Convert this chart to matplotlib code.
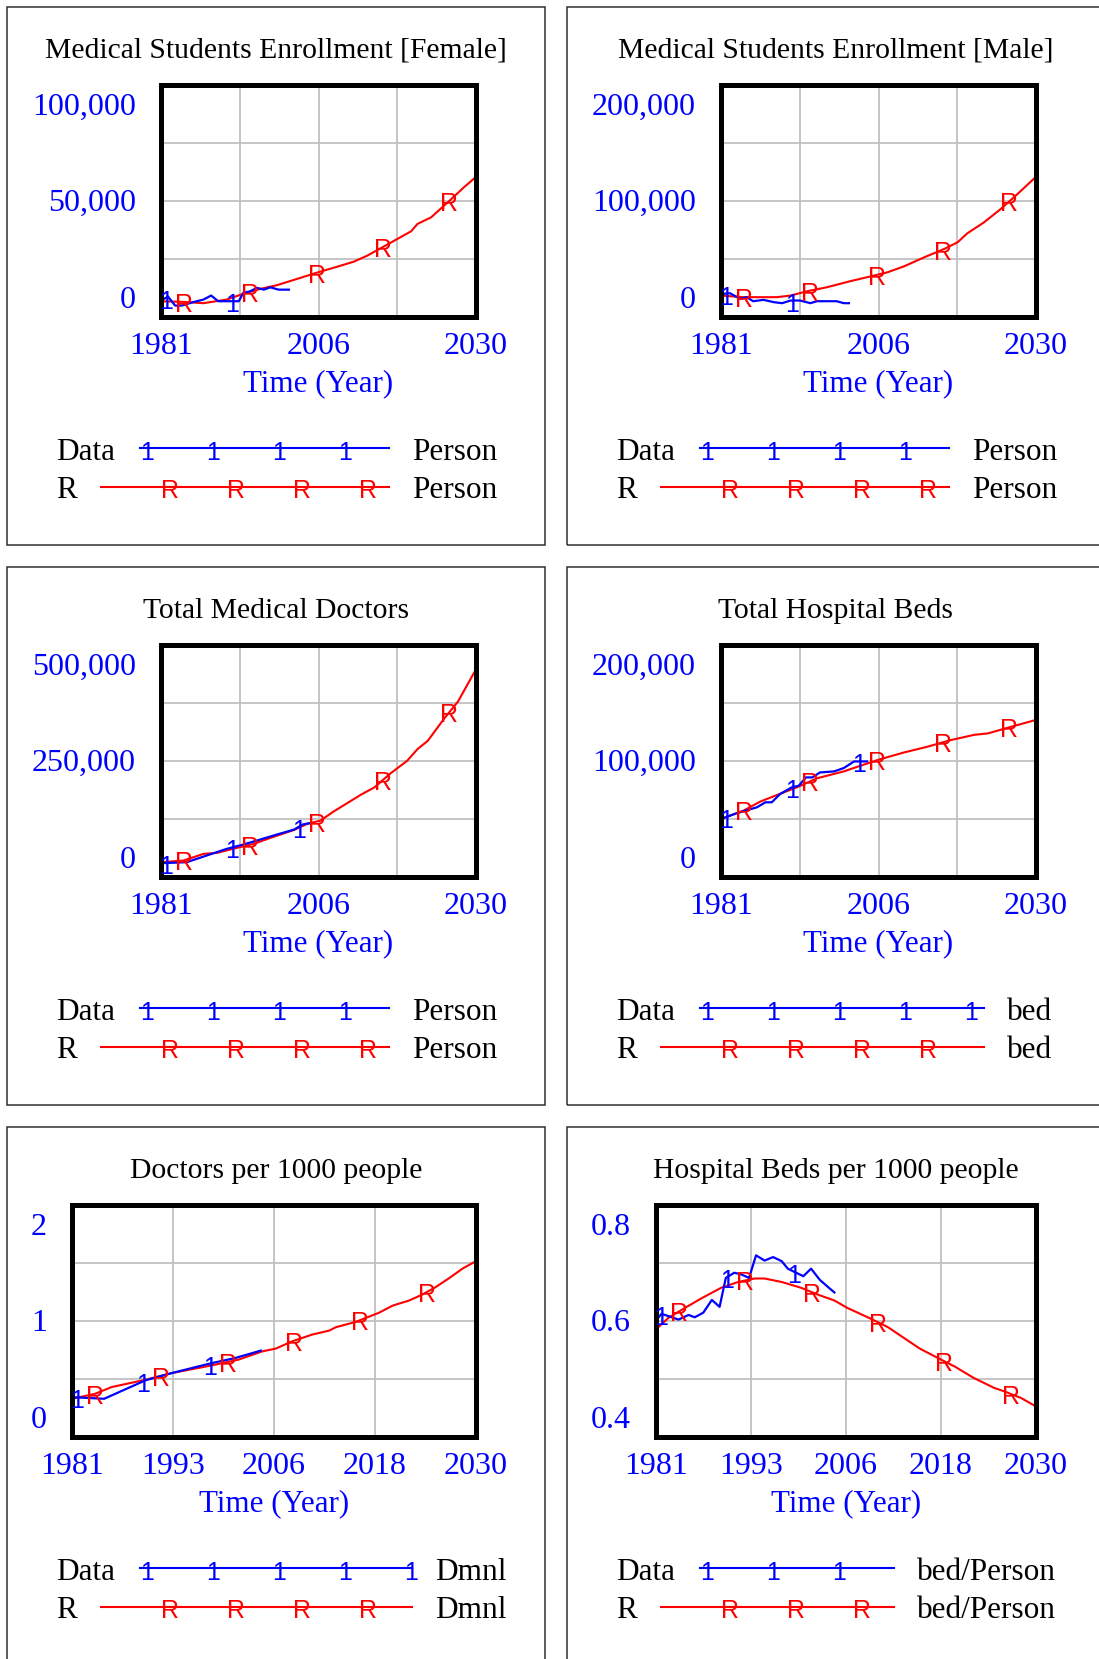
import numpy as np
import matplotlib
matplotlib.use("Agg")
import matplotlib.pyplot as plt
from matplotlib.patches import Rectangle
from matplotlib.lines import Line2D
from matplotlib.transforms import offset_copy

plt.rcParams['font.family'] = ['Liberation Serif', 'DejaVu Serif']

# ---------------- data ----------------
fem_r_year = [1981, 1984.5, 1987.6, 1991.2, 1993.8, 1996.4, 1999, 2002.7, 2005.8, 2008.4,
              2011, 2013.1, 2015.7, 2019.9, 2020.9, 2023, 2025.6, 2028.2, 2030]
fem_r = [6600, 6300, 5750, 7300, 9800, 11900, 13500, 16700, 19400, 21500,
         23700, 26300, 30300, 36800, 40000, 42800, 49300, 56000, 60300]
fem_d_year = [1981, 1982.1, 1983.2, 1984.2, 1986, 1987.6, 1988.8, 1989.9, 1991.8, 1993.1,
              1993.8, 1994.9, 1995.9, 1997, 1998, 1999.3, 2000.9]
fem_d = [6900, 8600, 4700, 4700, 6200, 7300, 9050, 6600, 6600, 6600,
         10200, 10900, 12400, 11600, 12600, 11600, 11600]

male_r_year = [1981, 1984.5, 1989.7, 1991.8, 1994.4, 1997.5, 2001.1, 2003.7, 2006.9, 2009.5,
               2012.6, 2015.7, 2017.8, 2019.3, 2021.9, 2024.5, 2027.1, 2030]
male_r = [18100, 16700, 16700, 18100, 21800, 25300, 30500, 33900, 38200, 43400,
          51100, 58300, 64100, 71800, 81300, 92800, 105700, 120700]
male_d_year = [1981, 1982.4, 1984, 1985, 1986, 1987.6, 1989.2, 1990.5, 1991.8, 1993.3,
               1994.9, 1995.9, 1999, 2000.1, 2000.9]
male_d = [19500, 20100, 15200, 16700, 13200, 14400, 12400, 11500, 13800, 13800,
          11500, 13200, 13200, 11500, 11500]

doc_r_year = [1981, 1984.5, 1987.6, 1989.7, 1992.8, 1995.4, 1998, 2001.7, 2003.7, 2005.8,
              2007.9, 2012.1, 2014.2, 2016.7, 2019.3, 2020.9, 2022.5, 2025.1, 2027.2, 2030]
doc_r = [30900, 34500, 48900, 51000, 61800, 70400, 83300, 100600, 113500, 120700,
         140800, 176700, 192500, 222700, 250000, 275100, 293100, 342000, 377900, 447600]
doc_d_year = [1981, 1985, 1988.1, 1991.2, 1993.8, 1996.4, 1999, 2001.7, 2003, 2004]
doc_d = [28700, 30900, 45300, 59600, 69000, 79700, 90500, 101300, 112100, 114900]

bed_r_year = [1981, 1984.5, 1987.1, 1989.7, 1992.8, 1995.9, 2000.1, 2002.7, 2005.8, 2009.5,
              2013.1, 2016.7, 2020.4, 2022.5, 2026.1, 2030]
bed_r = [49700, 56900, 64700, 70400, 77000, 84800, 90800, 95700, 101400, 107200,
         112100, 117800, 122400, 123600, 129300, 135300]
bed_d_year = [1981, 1983.4, 1986.6, 1987.9, 1988.9, 1990.2, 1992, 1993.1, 1994.2, 1995.2,
              1996.4, 1998.6, 2000.1, 2001.7, 2003.7]
bed_d = [49700, 54600, 59800, 64100, 64100, 71300, 77000, 78400, 85600, 85600,
         89900, 90800, 93700, 99400, 99400]

dpk_r_year = [1981, 1983.8, 1985.8, 1989.9, 1993.1, 1998, 2001.2, 2004.1, 2005.7, 2007.7,
              2010.1, 2012.2, 2013, 2015.4, 2018.2, 2019.9, 2021.9, 2023.5, 2025.1, 2026.8,
              2028.4, 2030]
dpk_r = [0.326, 0.369, 0.427, 0.49, 0.548, 0.615, 0.664, 0.736, 0.759, 0.822,
         0.880, 0.915, 0.944, 0.99, 1.068, 1.131, 1.175, 1.227, 1.29, 1.371,
         1.452, 1.515]
dpk_d_year = [1981, 1983.2, 1984.9, 1989.9, 1993.1, 1998, 2000.8, 2003.9]
dpk_d = [0.34, 0.332, 0.326, 0.485, 0.548, 0.635, 0.678, 0.742]

bpk_r_year = [1981, 1982.6, 1984.7, 1986.9, 1989.4, 1991.6, 1993.7, 1995, 1997.2, 1999.7,
              2001.9, 2004, 2005.7, 2008.3, 2010.9, 2013, 2015, 2017.3, 2019.5, 2022,
              2024.6, 2025.9, 2028, 2030]
bpk_r = [0.585, 0.605, 0.622, 0.639, 0.657, 0.667, 0.673, 0.673, 0.667, 0.657,
         0.645, 0.635, 0.622, 0.606, 0.589, 0.570, 0.552, 0.536, 0.521, 0.501,
         0.484, 0.478, 0.467, 0.452]
bpk_d_year = [1981, 1981.7, 1982.6, 1983.9, 1985.2, 1986, 1987.1, 1988.2, 1989.2, 1990,
              1991.1, 1992, 1993, 1993.9, 1995, 1996.1, 1997.2, 1998, 1998.9, 2000,
              2001, 2002.1, 2003.2, 2004]
bpk_d = [0.600, 0.612, 0.608, 0.602, 0.610, 0.606, 0.614, 0.636, 0.624, 0.674,
         0.683, 0.680, 0.674, 0.713, 0.704, 0.710, 0.703, 0.690, 0.684, 0.677,
         0.690, 0.671, 0.658, 0.649]

titles = ['Medical Students Enrollment [Female]', 'Medical Students Enrollment [Male]',
          'Total Medical Doctors', 'Total Hospital Beds',
          'Doctors per 1000 people', 'Hospital Beds per 1000 people']
units = ['Person', 'Person', 'Person', 'bed', 'Dmnl', 'bed/Person']
ylims = [(0, 100000), (0, 200000), (0, 500000), (0, 200000), (0, 2), (0.4, 0.8)]
ylabels = [['0', '50,000', '100,000'], ['0', '100,000', '200,000'],
           ['0', '250,000', '500,000'], ['0', '100,000', '200,000'],
           ['0', '1', '2'], ['0.4', '0.6', '0.8']]
x_short = ['1981', '2006', '2030']
x_long = ['1981', '1993', '2006', '2018', '2030']

# ---------------- layout ----------------
W, H, DPI = 1099, 1659, 100
BLUE, RED = '#0000ff', '#ff0000'
T0, T1 = 1981, 2030
MARK_FS = 18
legend_end = [382, 382, 382, 417, 405, 327]   # px from panel box left
fig = plt.figure(figsize=(W / DPI, H / DPI), dpi=DPI)


def px(x, y):
    return x / W, 1 - y / H


def marks(ax, years, vals, char, color, start, width, drop):
    # text markers every ~66 px along x, Vensim style
    xs = T0 + np.arange(start, width, 66.3) / width * (T1 - T0)
    xs = xs[xs <= years[-1]]
    ys = np.interp(xs, years, vals)
    tr = offset_copy(ax.transData, fig=fig, x=0, y=-drop, units='dots')
    for x, y in zip(xs, ys):
        ax.text(x, y, char, transform=tr, ha='center', va='baseline', color=color,
                fontsize=MARK_FS, family='Liberation Sans')


def panel(i, col, row, left, xlabels, r_year, r_val, d_year, d_val):
    bx, by = 7 + 560 * col, 7 + 560 * row
    fig.add_artist(Rectangle(px(bx, by + 538), 538 / W, 538 / H, transform=fig.transFigure,
                             fill=False, lw=1.1, ec='#303030'))
    fig.text(*px(bx + 269, by + 51), titles[i], ha='center', va='baseline', fontsize=21.3)

    top, bot, right = 78, 309.5, 469
    width = right - left
    ax = fig.add_axes([*px(bx + left, by + bot), width / W, (bot - top) / H])
    ax.set_xlim(T0, T1)
    ax.set_ylim(*ylims[i])
    ax.set_xticks(np.linspace(T0, T1, 5))
    ax.set_yticks(np.linspace(*ylims[i], 5))
    ax.set_axisbelow(True)
    ax.grid(True, color='#c0c0c0', lw=1.3)
    ax.tick_params(length=0, labelleft=False, labelbottom=False)
    for s in ax.spines.values():
        s.set_linewidth(3.6)
        s.set_color('black')

    ax.plot(r_year, r_val, color=RED, lw=1.5)
    ax.plot(d_year, d_val, color=BLUE, lw=1.6)
    marks(ax, d_year, d_val, '1', BLUE, 5, width, 11)
    marks(ax, r_year, r_val, 'R', RED, 23, width, 10)

    # axis labels
    for v, s, dy in zip(np.linspace(*ylims[i], 3), ylabels[i], [8, -10, -30]):
        tr = offset_copy(ax.get_yaxis_transform(), fig=fig, x=-25, y=dy, units='dots')
        ax.text(0, v, s, transform=tr, ha='right', va='baseline', color=BLUE, fontsize=23)
    tr = offset_copy(ax.get_xaxis_transform(), fig=fig, x=0, y=-37.5, units='dots')
    for v, s in zip(np.linspace(T0, T1, len(xlabels)), xlabels):
        ax.text(v, 0, s, transform=tr, ha='center', va='baseline', color=BLUE, fontsize=23)
    tr = offset_copy(ax.transAxes, fig=fig, x=0, y=-75, units='dots')
    ax.text(0.5, 0, 'Time (Year)', transform=tr, ha='center', va='baseline', color=BLUE,
            fontsize=22.3)

    # legend
    end = bx + legend_end[i]
    for name, color, ly, x_start, m0, ch, drop in [('Data', BLUE, 441.4, 132.6, 139.7, '1', 12),
                                                  ('R', RED, 480, 94, 163, 'R', 11)]:
        fig.text(*px(bx + 49, by + ly + 11.5), name, ha='left', va='baseline', fontsize=22.5)
        fig.text(*px(end + 23, by + ly + 11.5), units[i], ha='left', va='baseline',
                 fontsize=22.5)
        fig.add_artist(Line2D([(bx + x_start) / W, end / W], [1 - (by + ly) / H] * 2,
                              color=color, lw=1.5))
        for mx in np.arange(bx + m0, end + 2, 66):
            fig.text(*px(mx, by + ly + drop), ch, ha='center', va='baseline', color=color,
                     fontsize=MARK_FS, family='Liberation Sans')


panel(0, 0, 0, 154, x_short, fem_r_year, fem_r, fem_d_year, fem_d)
panel(1, 1, 0, 154, x_short, male_r_year, male_r, male_d_year, male_d)
panel(2, 0, 1, 154, x_short, doc_r_year, doc_r, doc_d_year, doc_d)
panel(3, 1, 1, 154, x_short, bed_r_year, bed_r, bed_d_year, bed_d)
panel(4, 0, 2, 65, x_long, dpk_r_year, dpk_r, dpk_d_year, dpk_d)
panel(5, 1, 2, 89, x_long, bpk_r_year, bpk_r, bpk_d_year, bpk_d)

fig.savefig('out.png', dpi=DPI)
